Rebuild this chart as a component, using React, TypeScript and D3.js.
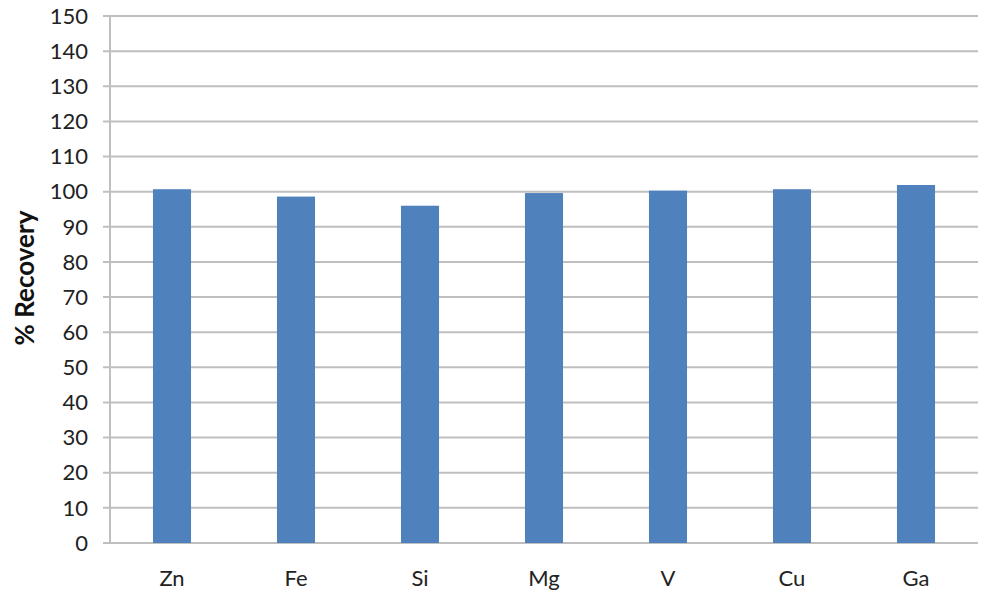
import { useEffect, useRef } from "react";
import * as d3 from "d3";

const elements = ["Zn", "Fe", "Si", "Mg", "V", "Cu", "Ga"];
const recovery = [100.7, 98.6, 96.0, 99.6, 100.3, 100.7, 101.9];
const yTicks = [0, 10, 20, 30, 40, 50, 60, 70, 80, 90, 100, 110, 120, 130, 140, 150];

export default function App() {
  const ref = useRef<SVGSVGElement | null>(null);

  useEffect(() => {
    const svgEl = ref.current;
    if (!svgEl) return;

    const width = 992;
    const height = 600;
    const margin = { top: 16, right: 14, bottom: 57, left: 110 };
    const w = width - margin.left - margin.right;
    const h = height - margin.top - margin.bottom;
    const font = "Lato, 'Open Sans', sans-serif";
    const gridColor = "#bfbfbf";

    const svg = d3.select(svgEl);
    svg.selectAll("*").remove();
    svg.attr("width", width).attr("height", height);

    const g = svg.append("g").attr("transform", `translate(${margin.left},${margin.top})`);

    const x = d3.scaleBand<string>().domain(elements).range([0, w]);
    const y = d3.scaleLinear().domain([0, 150]).range([h, 0]);

    // gridlines + left tick stubs
    g.append("g")
      .selectAll("line")
      .data(yTicks)
      .enter()
      .append("line")
      .attr("x1", -7)
      .attr("x2", w)
      .attr("y1", (d) => y(d))
      .attr("y2", (d) => y(d))
      .attr("stroke", gridColor)
      .attr("stroke-width", 2);

    // y axis line
    g.append("line")
      .attr("x1", 0)
      .attr("x2", 0)
      .attr("y1", 0)
      .attr("y2", h)
      .attr("stroke", gridColor)
      .attr("stroke-width", 2);

    // y tick labels
    g.append("g")
      .selectAll("text")
      .data(yTicks)
      .enter()
      .append("text")
      .attr("x", -22)
      .attr("y", (d) => y(d))
      .attr("dy", "0.35em")
      .attr("text-anchor", "end")
      .attr("font-family", font)
      .attr("font-size", 22)
      .attr("fill", "#222")
      .text((d) => d);

    // bars
    const barW = x.step() * 0.307;
    g.selectAll("rect.bar")
      .data(elements)
      .enter()
      .append("rect")
      .attr("class", "bar")
      .attr("x", (d) => x(d)! + x.step() / 2 - barW / 2)
      .attr("y", (d, i) => y(recovery[i]))
      .attr("width", barW)
      .attr("height", (d, i) => h - y(recovery[i]))
      .attr("fill", "#4f81bd");

    // x category labels
    g.append("g")
      .selectAll("text")
      .data(elements)
      .enter()
      .append("text")
      .attr("x", (d) => x(d)! + x.step() / 2)
      .attr("y", h + 35)
      .attr("dy", "0.35em")
      .attr("text-anchor", "middle")
      .attr("font-family", font)
      .attr("font-size", 22)
      .attr("fill", "#222")
      .text((d) => d);

    // y axis title
    svg.append("text")
      .attr("transform", `translate(34,278) rotate(-90)`)
      .attr("text-anchor", "middle")
      .attr("font-family", font)
      .attr("font-size", 26)
      .attr("font-weight", "bold")
      .attr("fill", "#111")
      .text("% Recovery");
  }, []);

  return (
    <div style={{ position: "absolute", left: 0, top: 0, background: "#fff" }}>
      <svg ref={ref} style={{ display: "block" }} />
    </div>
  );
}
